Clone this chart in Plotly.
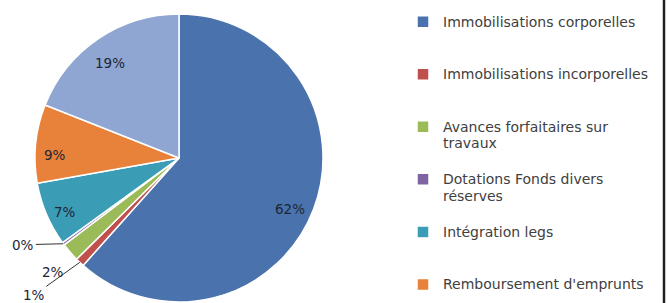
import math
import plotly.graph_objects as go

# legend labels (line breaks as in the reference)
labels = [
    ["Immobilisations corporelles"],
    ["Immobilisations incorporelles"],
    ["Avances forfaitaires sur", "travaux"],
    ["Dotations Fonds divers", "réserves"],
    ["Intégration legs"],
    ["Remboursement d'emprunts"],
    ["Autres"],
]
values = [61.6, 1.0, 2.1, 0.3, 7.2, 8.8, 19.0]
colors = ["#4A72AC", "#C0504D", "#9BBB59", "#8064A2", "#3A9DB5", "#E8813A", "#8FA6D2"]

W, H = 668, 440
CX, CY, R = 179, 158, 144  # pie centre / radius in pixels
LEG_FS = 12.7  # controls entry spacing
TXT_FS = 14    # visible legend text size
ENTRY_LINES = [3, 3, 3, 3, 3, 5, 3]


def legend_label(lines, n):
    body = "<br>".join(f"<span style='font-size:{TXT_FS}px'>{ln}</span>" for ln in lines)
    return body + "<br> " * (n - len(lines))


fig = go.Figure(go.Pie(
    labels=[legend_label(l, n) for l, n in zip(labels, ENTRY_LINES)],
    values=values,
    marker=dict(colors=colors, line=dict(color="white", width=1.5)),
    sort=False,
    direction="clockwise",
    rotation=0,
    textinfo="none",
    hoverinfo="percent",
    domain=dict(x=[(CX - R) / W, (CX + R) / W], y=[1 - (CY + R) / H, 1 - (CY - R) / H]),
))

total = sum(values)
cum = 0.0
font = dict(family="DejaVu Sans, sans-serif", size=13.5, color="#1e2535")
# label placement per slice: (radius fraction, angle shift in degrees, arrow offset or None)
place = [(0.85, 4.0, None), (1.0, 0.0, (-46, 33)), (1.18, -1.2, None), (1.0, 0.0, (-40, 1)),
         (0.875, -2.4, None), (0.86, -4.4, None), (0.815, -1.8, None)]
for v, (f, shift, arrow) in zip(values, place):
    mid = (cum + v / 2) / total * 2 * math.pi + math.radians(shift)
    cum += v
    px = CX + R * f * math.sin(mid)
    py = CY - R * f * math.cos(mid)
    txt = f"{round(v / total * 100)}%"
    ann = dict(x=px / W, y=1 - py / H, xref="paper", yref="paper", text=txt,
               font=font, showarrow=arrow is not None,
               xanchor="center", yanchor="middle")
    if arrow:
        ann.update(ax=arrow[0], ay=arrow[1], arrowhead=0, arrowwidth=1,
                   arrowcolor="#333", standoff=0, startstandoff=0)
    fig.add_annotation(**ann)

fig.add_shape(type="line", xref="paper", yref="paper", x0=664 / W, x1=664 / W,
              y0=0, y1=1, line=dict(color="#222", width=2.5))

fig.update_layout(
    width=W, height=H,
    margin=dict(l=0, r=0, t=0, b=0),
    paper_bgcolor="white", plot_bgcolor="white",
    showlegend=True,
    legend=dict(x=403 / W, xanchor="left", y=1 - 7 / H, yanchor="top",
                valign="top", font=dict(family="DejaVu Sans, sans-serif", size=LEG_FS, color="#404040"),
                bgcolor="rgba(0,0,0,0)", traceorder="normal"),
)

fig.write_html("out.html", config={"displayModeBar": False},
               post_script="document.body.style.margin='0';")
